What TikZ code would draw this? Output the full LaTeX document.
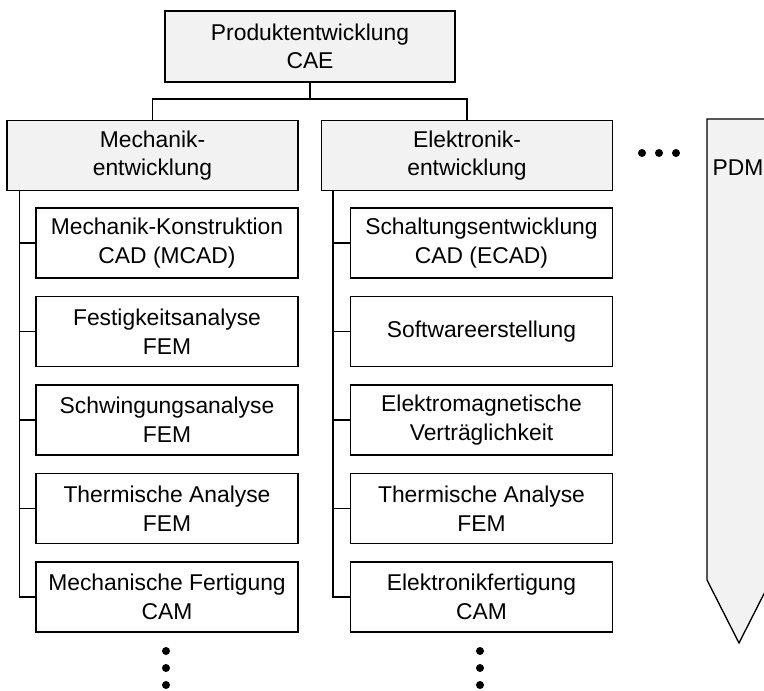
\documentclass[tikz,border=0pt]{standalone}
\usepackage{fontspec}
\setmainfont{Liberation Sans}
\definecolor{boxgray}{HTML}{F2F2F2}

\begin{document}
\begin{tikzpicture}[x=0.02cm,y=-0.02cm,line width=0.75pt,
  font=\fontsize{13}{16.3}\selectfont,
  headbox/.style={draw,fill=boxgray,align=center,inner sep=0pt,minimum width=5.82cm,minimum height=1.4cm},
  subbox/.style={draw,fill=white,align=center,inner sep=0pt,minimum width=5.24cm,minimum height=1.4cm},
  bigdot/.style={fill=black,radius=4}]

\useasboundingbox (0,0) rectangle (764,690);

\coordinate (T) at (310,46.5);
\coordinate (M) at (152.5,155.5);
\coordinate (E) at (467,155.5);
\coordinate (bus) at (310,99);

\node [headbox,minimum width=5.8cm,minimum height=1.42cm] (top) at (T) {Produktentwicklung\\CAE};
\node [headbox] (mech) at (M) {Mechanik-\\entwicklung};
\node [headbox] (elek) at (E) {Elektronik-\\entwicklung};

\draw (top.south) -- (bus);
\draw (mech.north) |- (bus) -| (elek.north);

\node [subbox] (m1) at (167,243)   {Mechanik-Konstruktion\\CAD (MCAD)};
\node [subbox] (m2) at (167,331.5) {Festigkeitsanalyse\\FEM};
\node [subbox] (m3) at (167,420)   {Schwingungsanalyse\\FEM};
\node [subbox] (m4) at (167,508.5) {Thermische Analyse\\FEM};
\node [subbox] (m5) at (167,597)   {Mechanische Fertigung\\CAM};

\node [subbox] (e1) at (481.5,243)   {Schaltungsentwicklung\\CAD (ECAD)};
\node [subbox] (e2) at (481.5,331.5) {Softwareerstellung};
\node [subbox] (e3) at (481.5,420)   {Elektromagnetische\\Vertr\"aglichkeit};
\node [subbox] (e4) at (481.5,508.5) {Thermische Analyse\\FEM};
\node [subbox] (e5) at (481.5,597)   {Elektronikfertigung\\CAM};

\coordinate (mt) at ([xshift=0.26cm]mech.south west);
\coordinate (et) at ([xshift=0.24cm]elek.south west);
\foreach \i in {1,...,5} {
  \draw (mt) |- (m\i.west);
  \draw (et) |- (e\i.west);
}

% dots
\foreach \y in {651,668,685} {
  \fill (166,\y) circle [radius=4];
  \fill (480,\y) circle [radius=4];
}
\foreach \x in {642,659,676}
  \fill (\x,153) circle [radius=4];

% PDM
\begin{scope}
\clip (0,0) rectangle (764,690);
\draw [fill=boxgray] (707,119) -- (771,119) -- (771,580) -- (739,643) -- (707,580) -- cycle;
\end{scope}
\node [anchor=west,inner sep=0pt] (pdm) at (712,168) {PDM};

\end{tikzpicture}
\end{document}
